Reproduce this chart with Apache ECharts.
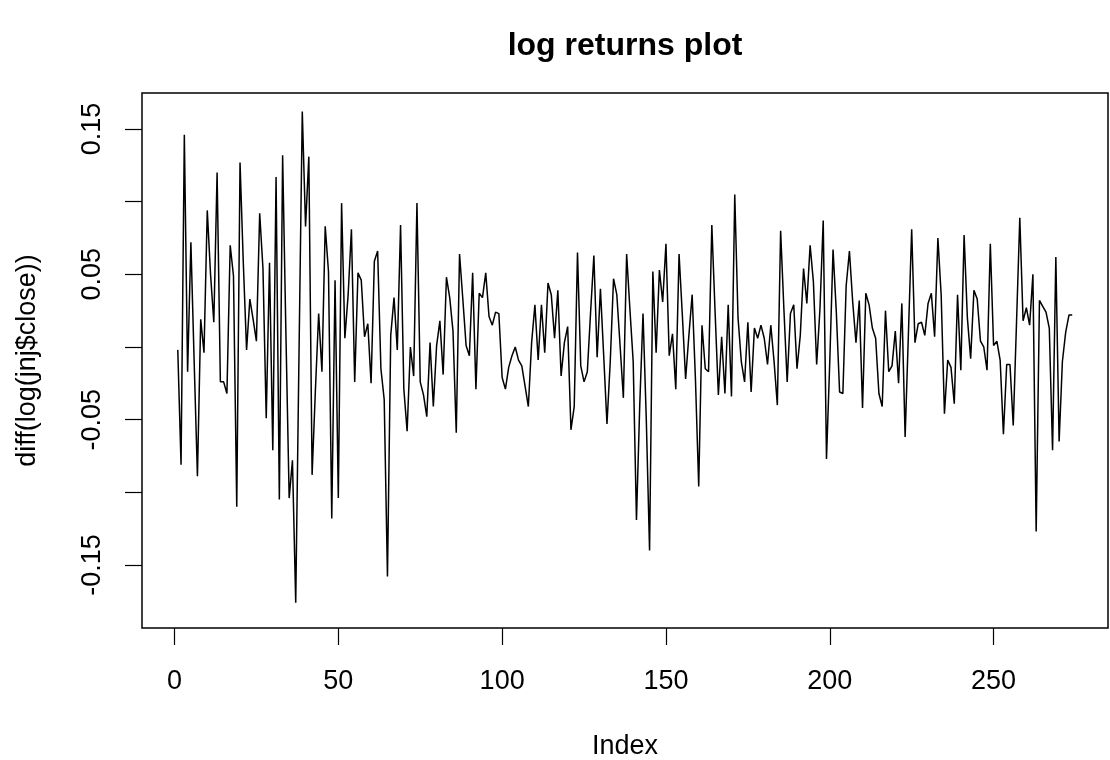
<!DOCTYPE html>
<html>
<head>
<meta charset="utf-8">
<script src="https://cdn.jsdelivr.net/npm/echarts@6/dist/echarts.min.js"></script>
<style>html,body{margin:0;padding:0;background:#fff}#c{width:1110px;height:760px}</style>
</head>
<body>
<div id="c"></div>
<script>
const titleText = 'log returns plot';
const xName = 'Index';
const yName = 'diff(log(jnj$close))';
const xTicks = [0, 50, 100, 150, 200, 250];
const yTicks = [-0.15, -0.10, -0.05, 0, 0.05, 0.10, 0.15];
const yLabels = [-0.15, -0.05, 0.05, 0.15];
const logReturns = [
 -0.002,-0.081,0.146,-0.017,0.072,-0.01,-0.089,0.019,-0.004,0.094,
 0.05,0.017,0.120,-0.024,-0.024,-0.032,0.070,0.049,-0.110,0.127,
 0.058,-0.002,0.033,0.019,0.004,0.092,0.054,-0.049,0.058,-0.071,
 0.117,-0.105,0.132,0.01,-0.104,-0.078,-0.176,-0.005,0.162,0.083,
 0.131,-0.088,-0.03,0.023,-0.017,0.083,0.052,-0.118,0.046,-0.104,
 0.099,0.006,0.036,0.081,-0.024,0.051,0.046,0.007,0.016,-0.025,
 0.059,0.066,-0.015,-0.036,-0.158,0.008,0.034,-0.002,0.084,-0.029,
 -0.058,0.000,-0.020,0.099,-0.024,-0.033,-0.048,0.003,-0.041,0.001,
 0.018,-0.019,0.048,0.034,0.011,-0.059,0.064,0.033,0.001,-0.006,
 0.051,-0.029,0.037,0.034,0.051,0.021,0.015,0.024,0.023,-0.021,
 -0.029,-0.014,-0.006,0.000,-0.009,-0.013,-0.027,-0.041,0.003,0.029,
 -0.009,0.029,-0.004,0.044,0.036,0.006,0.039,-0.020,0.003,0.014,
 -0.057,-0.041,0.065,-0.013,-0.024,-0.017,0.024,0.063,-0.007,0.040,
 -0.006,-0.053,-0.01,0.047,0.036,0.001,-0.035,0.064,0.026,-0.010,
 -0.119,-0.04,0.023,-0.05,-0.140,0.052,-0.004,0.053,0.031,0.071,
 -0.006,0.009,-0.029,0.064,0.022,-0.022,0.008,0.036,-0.022,-0.096,
 0.015,-0.015,-0.017,0.084,0.024,-0.033,0.007,-0.032,0.029,-0.034,
 0.105,0.02,-0.010,-0.024,0.017,-0.031,0.013,0.006,0.015,0.006,
 -0.012,0.015,-0.010,-0.040,0.080,0.026,-0.024,0.023,0.029,-0.015,
 0.008,0.054,0.030,0.070,0.045,-0.012,0.026,0.087,-0.077,-0.010,
 0.067,0.024,-0.031,-0.032,0.042,0.066,0.031,0.003,0.032,-0.042,
 0.037,0.029,0.013,0.006,-0.032,-0.041,0.025,-0.017,-0.013,0.011,
 -0.025,0.030,-0.062,0.009,0.081,0.003,0.016,0.017,0.008,0.030,
 0.037,0.007,0.075,0.036,-0.046,-0.009,-0.014,-0.039,0.036,-0.016,
 0.077,0.02,-0.008,0.039,0.033,0.004,0.000,-0.016,0.071,0.001,
 0.004,-0.009,-0.060,-0.012,-0.012,-0.054,0.017,0.089,0.018,0.027,
 0.015,0.050,-0.127,0.032,0.028,0.024,0.013,-0.071,0.062,-0.065,
 -0.010,0.010,0.022,0.022
];

const FONT = 'Liberation Sans, Arial, sans-serif';
const n = logReturns.length;
const xPad = (n - 1) * 0.04;
const chart = echarts.init(document.getElementById('c'), null, {renderer: 'canvas'});
chart.setOption({
  animation: false,
  backgroundColor: '#fff',
  graphic: [{
    type: 'text', x: 625, y: 46,
    style: {text: titleText, textAlign: 'center', textVerticalAlign: 'middle',
      font: 'bold 32px ' + FONT, fill: '#000'}
  }],
  grid: {left: 142, top: 93, width: 966, height: 535, show: true,
    outerBoundsMode: 'none', containLabel: false,
    borderColor: '#000', borderWidth: 1.5, backgroundColor: 'transparent'},
  xAxis: {
    type: 'value', min: 1 - xPad, max: n + xPad,
    axisLine: {show: false, onZero: false},
    splitLine: {show: false},
    axisTick: {show: true, customValues: xTicks, length: 17, lineStyle: {color: '#000', width: 1.2}},
    axisLabel: {customValues: xTicks, fontSize: 27, color: '#000', fontFamily: FONT, margin: 40},
    name: xName, nameLocation: 'middle', nameGap: 105,
    nameTextStyle: {fontSize: 27, color: '#000', fontFamily: FONT}
  },
  yAxis: {
    type: 'value', min: -0.1934, max: 0.1748,
    axisLine: {show: false, onZero: false},
    splitLine: {show: false},
    axisTick: {show: true, customValues: yTicks, length: 17, lineStyle: {color: '#000', width: 1.2}},
    axisLabel: {customValues: yLabels, rotate: 90, fontSize: 27, color: '#000', fontFamily: FONT, margin: 36,
      formatter: v => v.toFixed(2)},
    name: yName, nameLocation: 'middle', nameRotate: 90, nameGap: 101,
    nameTextStyle: {fontSize: 27, color: '#000', fontFamily: FONT}
  },
  series: [{
    type: 'line',
    data: logReturns.map((v, i) => [i + 1, v]),
    symbol: 'none',
    lineStyle: {color: '#000', width: 1.5},
    silent: true
  }]
});
</script>
</body>
</html>
